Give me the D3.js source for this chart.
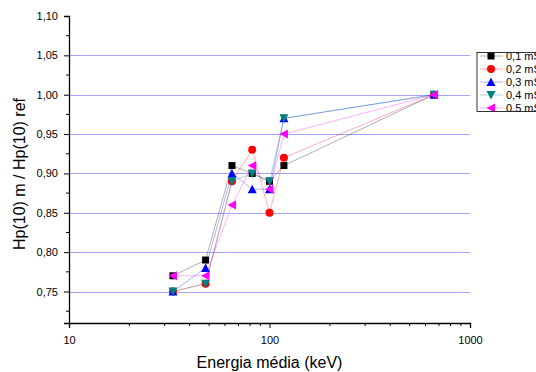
<!DOCTYPE html>
<html>
<head>
<meta charset="utf-8">
<script src="https://cdn.jsdelivr.net/npm/d3@7"></script>
<style>
  body { margin: 0; background: #fff; }
  svg { font-family: "Liberation Sans", Arial, sans-serif; }
</style>
</head>
<body>
<div id="container"></div>
<script>
// ---------- DATA ----------
const energies = [33, 48, 65, 82, 100, 118, 662];
const dose01 = [0.77, 0.79, 0.91, 0.90, 0.89, 0.91, 1.00];
const dose02 = [0.75, 0.76, 0.89, 0.93, 0.85, 0.92, 1.00];
const dose03 = [0.75, 0.78, 0.90, 0.88, 0.88, 0.97, 1.00];
const dose04 = [0.75, 0.76, 0.89, 0.90, 0.89, 0.97, 1.00];
const dose05 = [0.77, 0.77, 0.86, 0.91, 0.88, 0.95, 1.00];
const seriesNames = ['0,1 mSv', '0,2 mSv', '0,3 mSv', '0,4 mSv', '0,5 mSv'];
const yTicks = [0.75, 0.80, 0.85, 0.90, 0.95, 1.00, 1.05, 1.10];
const xTicks = [10, 100, 1000];

const series = [
    { name: seriesNames[0], values: dose01, color: '#000000', symbol: 'square' },
    { name: seriesNames[1], values: dose02, color: '#ff0000', symbol: 'circle' },
    { name: seriesNames[2], values: dose03, color: '#0000ff', symbol: 'up' },
    { name: seriesNames[3], values: dose04, color: '#008080', symbol: 'down' },
    { name: seriesNames[4], values: dose05, color: '#ff00ff', symbol: 'left' }
];

// ---------- DIMENSIONS ----------
const width = 536;
const height = 372;
const marginLeft = 69, plotRight = 470, plotTop = 16, plotBottom = 323;

const svg = d3.create('svg')
    .attr('width', width)
    .attr('height', height);

// ---------- SCALES ----------
const x = d3.scaleLog().domain([10, 1000]).range([marginLeft, plotRight]);
const y = d3.scaleLinear().domain([0.71, 1.10]).range([plotBottom, plotTop]);

// ---------- GRID ----------
svg.append('g')
    .selectAll('line')
    .data(yTicks.filter(t => t < 1.09))
    .join('line')
    .attr('x1', marginLeft).attr('x2', plotRight)
    .attr('y1', d => Math.round(y(d)) + 0.5)
    .attr('y2', d => Math.round(y(d)) + 0.5)
    .attr('stroke', '#a3a3ff')
    .attr('stroke-width', 1);

// ---------- AXES ----------
const yMinor = d3.range(0.725, 1.10, 0.05);
const yAxis = svg.append('g').attr('transform', `translate(${marginLeft},0)`);
yAxis.call(d3.axisLeft(y).tickValues(yTicks).tickSize(5).tickPadding(6)
    .tickFormat(d => d3.format('.2f')(d).replace('.', ',')));
yAxis.append('g').selectAll('line')
    .data(yMinor)
    .join('line')
    .attr('x1', -3).attr('x2', 0)
    .attr('y1', d => y(d)).attr('y2', d => y(d))
    .attr('stroke', '#000');

const xMinor = [20, 30, 40, 50, 60, 70, 80, 90, 200, 300, 400, 500, 600, 700, 800, 900];
const xAxis = svg.append('g').attr('transform', `translate(0,${plotBottom})`);
xAxis.call(d3.axisBottom(x).tickValues(xTicks).tickSize(5).tickPadding(8)
    .tickFormat(d3.format('d')));
xAxis.append('g').selectAll('line')
    .data(xMinor)
    .join('line')
    .attr('x1', d => x(d)).attr('x2', d => x(d))
    .attr('y1', 0).attr('y2', 3)
    .attr('stroke', '#000');

svg.selectAll('.domain').attr('stroke-width', 1.3);
svg.selectAll('.tick text').attr('font-size', 11).attr('fill', '#000')
    .attr('font-family', '"Liberation Sans", Arial, sans-serif');

// ---------- TITLES ----------
svg.append('text')
    .attr('x', (marginLeft + plotRight) / 2)
    .attr('y', 368)
    .attr('text-anchor', 'middle')
    .attr('font-size', 16)
    .text('Energia média (keV)');

svg.append('text')
    .attr('transform', `translate(25,174) rotate(-90)`)
    .attr('text-anchor', 'middle')
    .attr('font-size', 16)
    .text('Hp(10) m / Hp(10) ref');

// ---------- SYMBOLS ----------
function symbolPath(type, s) {
    const h = s / 2;
    switch (type) {
        case 'square': return `M${-h + 0.5},${-h + 0.5}H${h - 0.5}V${h - 0.5}H${-h + 0.5}Z`;
        case 'circle': return d3.symbol(d3.symbolCircle, Math.PI * h * h)();
        case 'up': return `M0,${-h - 0.5}L${h + 0.5},${h}L${-h - 0.5},${h}Z`;
        case 'down': return `M0,${h + 0.5}L${h + 0.5},${-h}L${-h - 0.5},${-h}Z`;
        case 'left': return `M${-h - 0.5},0L${h},${-h - 0.5}L${h},${h + 0.5}Z`;
    }
}

// ---------- SERIES ----------
const line = d3.line().x(d => x(d[0])).y(d => y(d[1]));

series.forEach(s => {
    const pts = energies.map((e, i) => [e, s.values[i]]);
    const g = svg.append('g');
    g.append('path')
        .attr('d', line(pts))
        .attr('fill', 'none')
        .attr('stroke', s.color)
        .attr('stroke-opacity', 0.45)
        .attr('stroke-width', 0.7);
    g.selectAll('path.sym')
        .data(pts)
        .join('path')
        .attr('class', 'sym')
        .attr('transform', d => `translate(${x(d[0])},${y(d[1])})`)
        .attr('d', symbolPath(s.symbol, 8))
        .attr('fill', s.color);
});

// ---------- LEGEND ----------
const lx = 477, ly = 52.5, lw = 80, lh = 59;
svg.append('clipPath').attr('id', 'legclip')
    .append('rect').attr('x', lx).attr('y', ly).attr('width', lw).attr('height', lh);

const legend = svg.append('g').attr('clip-path', 'url(#legclip)');
legend.append('rect')
    .attr('x', lx).attr('y', ly).attr('width', lw).attr('height', lh)
    .attr('fill', '#fff');

series.forEach((s, i) => {
    const cy = 56 + i * 13;
    legend.append('line')
        .attr('x1', 480).attr('x2', 503)
        .attr('y1', cy).attr('y2', cy)
        .attr('stroke', s.color)
        .attr('stroke-opacity', 0.45)
        .attr('stroke-width', 0.7);
    legend.append('path')
        .attr('transform', `translate(491,${cy})`)
        .attr('d', symbolPath(s.symbol, 8))
        .attr('fill', s.color);
    legend.append('text')
        .attr('x', 506)
        .attr('y', cy + 4)
        .attr('font-size', 11)
        .text(s.name);
});

svg.append('rect')
    .attr('x', lx).attr('y', ly).attr('width', lw).attr('height', lh)
    .attr('fill', 'none')
    .attr('stroke', '#000')
    .attr('stroke-width', 0.8);

document.getElementById('container').append(svg.node());
</script>
</body>
</html>
